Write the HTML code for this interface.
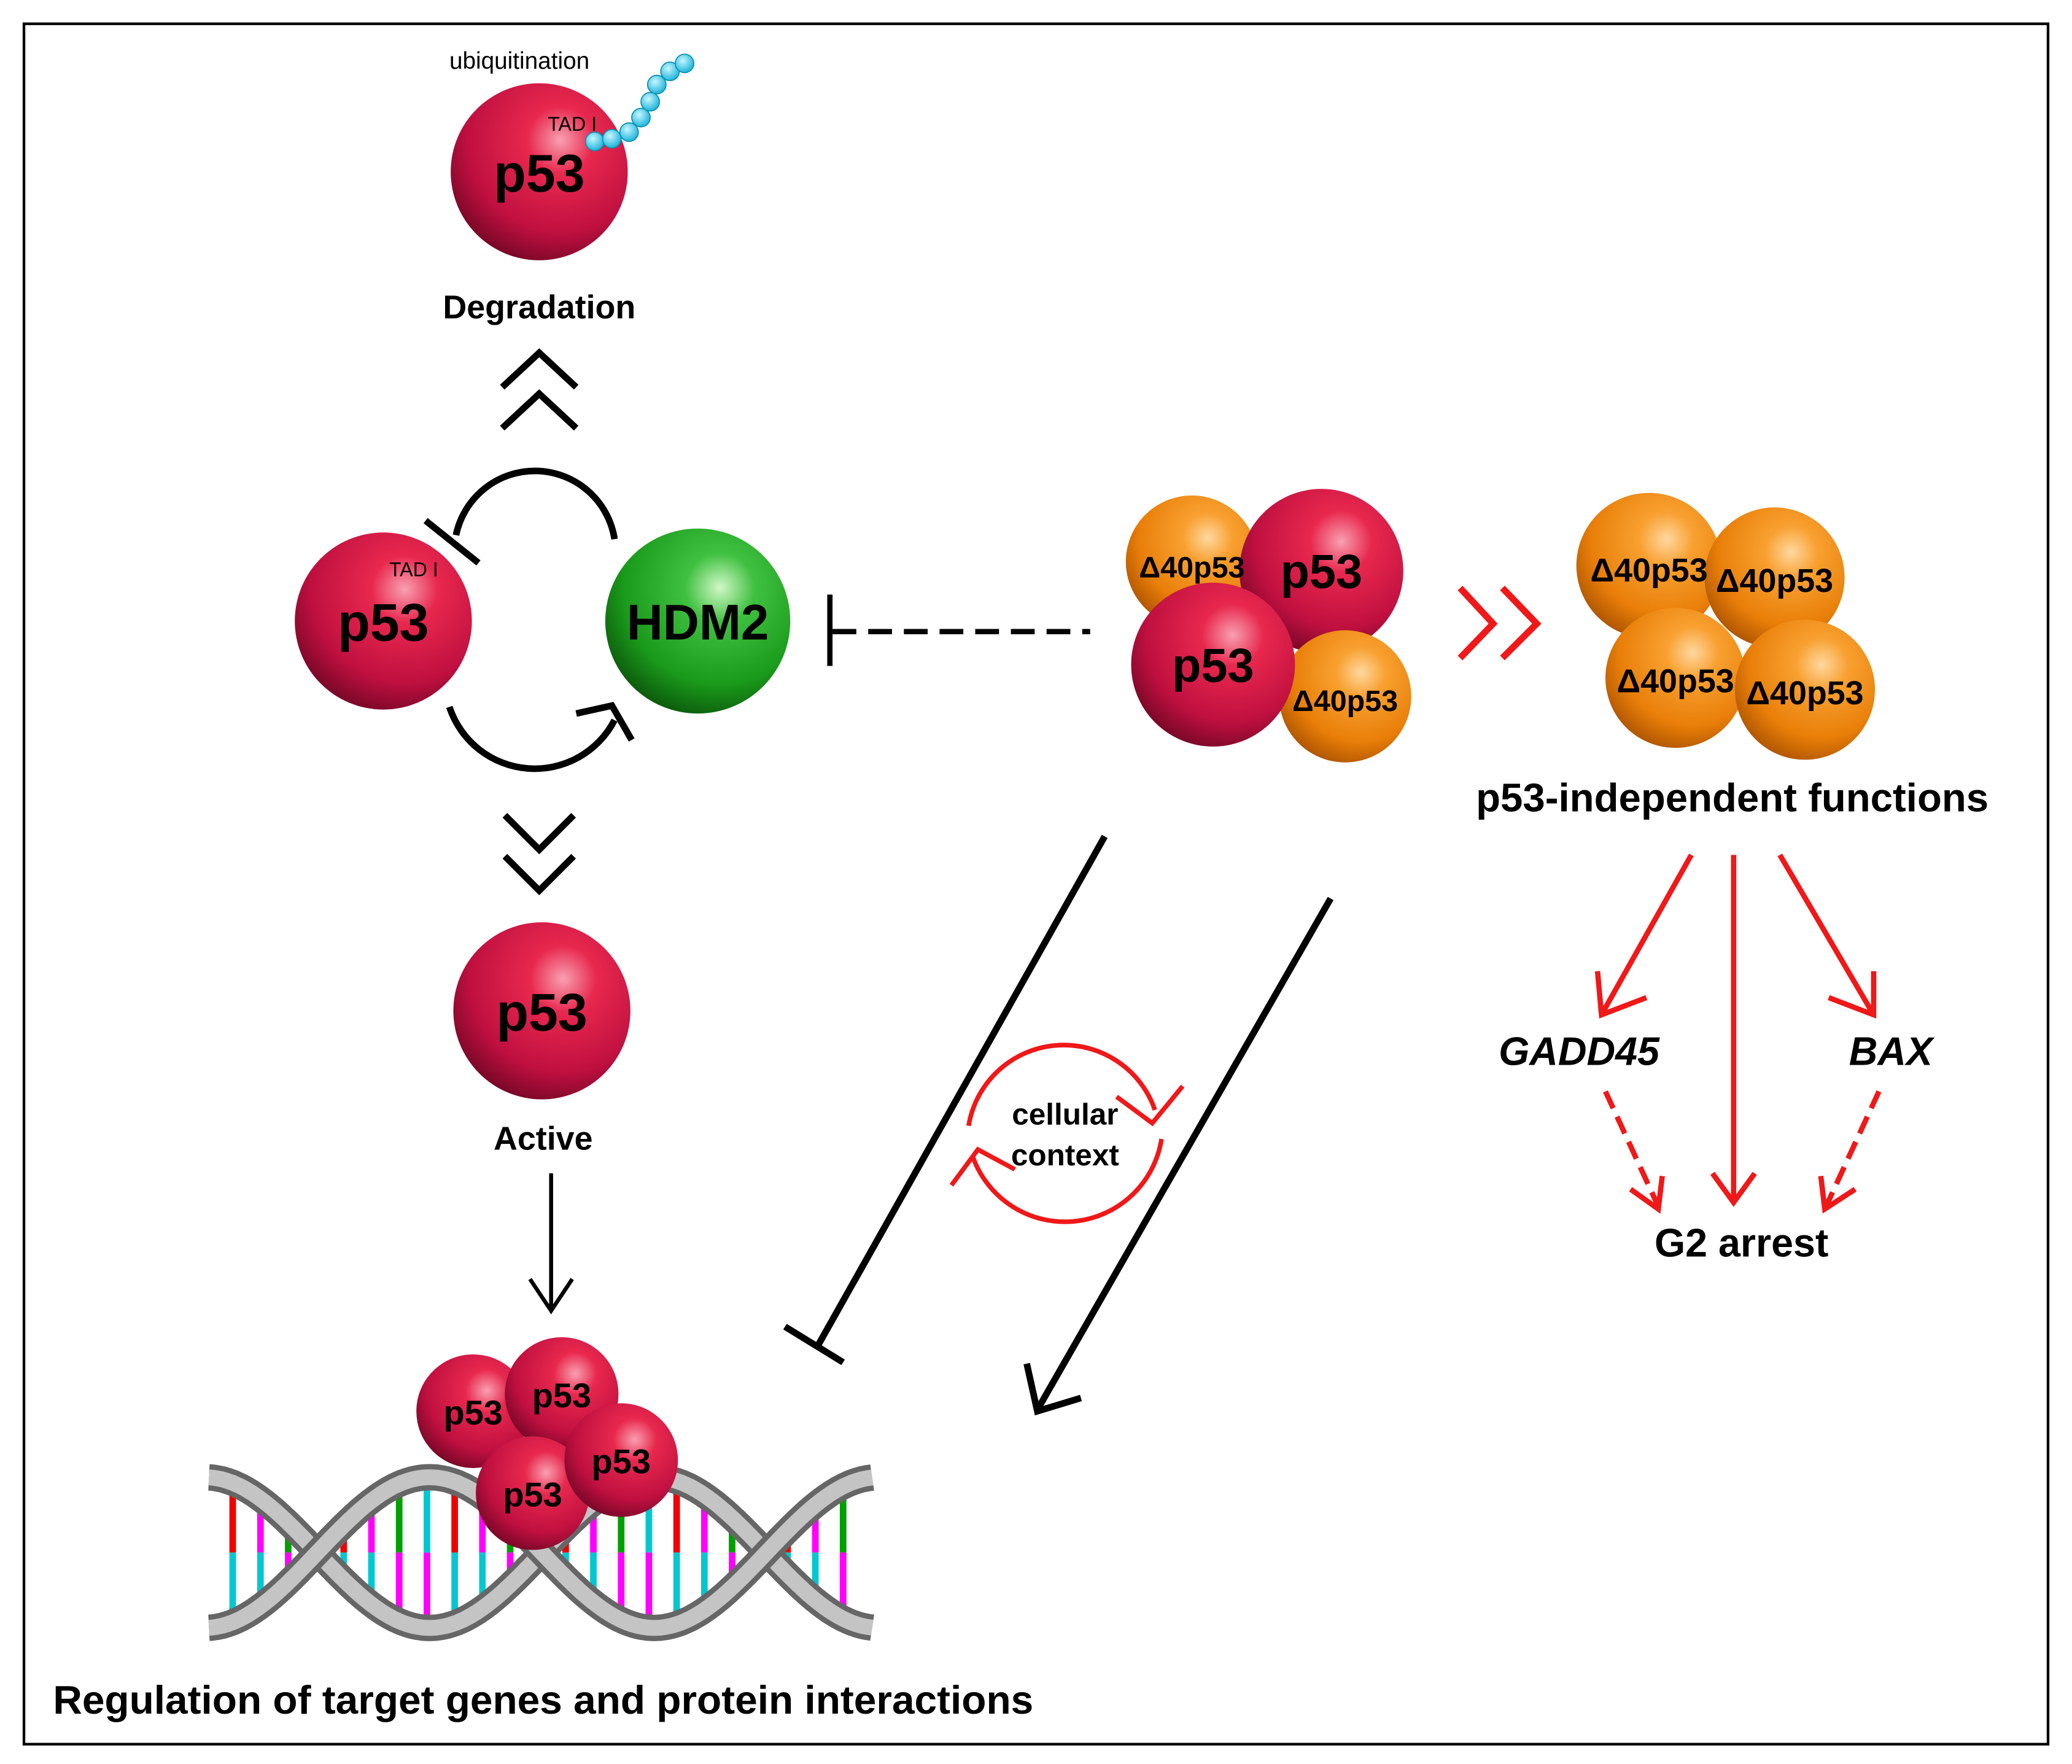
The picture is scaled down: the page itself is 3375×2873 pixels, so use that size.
<!DOCTYPE html>
<html><head><meta charset="utf-8"><style>html,body{margin:0;padding:0;background:#fff}svg{display:block}text{font-family:"Liberation Sans",sans-serif;font-weight:bold}</style></head>
<body>
<svg id="s" width="3375" height="2873" viewBox="0 0 1568 1335" xmlns="http://www.w3.org/2000/svg">
<defs>
<radialGradient id="rd" cx="0.62" cy="0.32" r="0.75"><stop offset="0" stop-color="#f8a0b0"/><stop offset="0.25" stop-color="#e8284e"/><stop offset="0.7" stop-color="#c01040"/><stop offset="1" stop-color="#6e0624"/></radialGradient>
<radialGradient id="or" cx="0.62" cy="0.32" r="0.75"><stop offset="0" stop-color="#ffd8a0"/><stop offset="0.25" stop-color="#f8a030"/><stop offset="0.7" stop-color="#e87e08"/><stop offset="1" stop-color="#a85000"/></radialGradient>
<radialGradient id="gr" cx="0.62" cy="0.32" r="0.75"><stop offset="0" stop-color="#d0f8c8"/><stop offset="0.25" stop-color="#40c040"/><stop offset="0.7" stop-color="#1a9a1a"/><stop offset="1" stop-color="#0a500a"/></radialGradient>
<radialGradient id="cy" cx="0.4" cy="0.35" r="0.7"><stop offset="0" stop-color="#c8f6ff"/><stop offset="1" stop-color="#10b0d8"/></radialGradient>
</defs>
<rect x="18" y="18" width="1532" height="1302" fill="none" stroke="#000" stroke-width="2"/>
<g id="dna"></g>
<!-- top p53 -->
<circle cx="408" cy="130" r="67" fill="url(#rd)"/>
<text x="408" y="145" font-size="40" text-anchor="middle">p53</text>
<text x="433" y="99" font-size="15" text-anchor="middle" style="font-weight:normal">TAD I</text>
<text x="393" y="52" font-size="18" text-anchor="middle" style="font-weight:normal">ubiquitination</text>
<g fill="url(#cy)" stroke="#0890b0" stroke-width="0.8">
<circle cx="450" cy="107" r="7"/><circle cx="463" cy="105" r="7"/><circle cx="476" cy="100" r="7"/><circle cx="485" cy="89" r="7"/><circle cx="492" cy="77" r="7"/><circle cx="497" cy="64" r="7"/><circle cx="507" cy="54" r="7"/><circle cx="518" cy="48" r="7"/>
</g>
<text x="408" y="241" font-size="25" text-anchor="middle">Degradation</text>
<g fill="none" stroke="#000" stroke-width="5">
<polyline points="380,293 408,267 436,293"/><polyline points="380,324 408,298 436,324"/>
<polyline points="382,617 408,643 434,617"/><polyline points="382,648 408,674 434,648"/>
<path d="M345,405 A61,61 0 0 1 465,408"/>
<line x1="322" y1="394" x2="362" y2="426"/>
<path d="M340,535 A68,68 0 0 0 465,545"/>
<polyline points="436,540 463,534 478,560"/>
</g>
<circle cx="290" cy="470" r="67" fill="url(#rd)"/>
<text x="290" y="485" font-size="40" text-anchor="middle">p53</text>
<text x="313" y="436" font-size="15" text-anchor="middle" style="font-weight:normal">TAD I</text>
<circle cx="528" cy="470" r="70" fill="url(#gr)"/>
<text x="528" y="484" font-size="38" text-anchor="middle">HDM2</text>
<circle cx="410" cy="765" r="67" fill="url(#rd)"/>
<text x="410" y="780" font-size="40" text-anchor="middle">p53</text>
<text x="411" y="870" font-size="25" text-anchor="middle">Active</text>
<g stroke="#000" stroke-width="3" fill="none"><line x1="417" y1="888" x2="417" y2="990"/><polyline points="401,968 417,992 433,968"/></g>
<!-- dna p53 cluster -->
<circle cx="358" cy="1068" r="43" fill="url(#rd)"/><text x="358" y="1078" font-size="26" text-anchor="middle">p53</text>
<circle cx="425" cy="1055" r="43" fill="url(#rd)"/><text x="425" y="1065" font-size="26" text-anchor="middle">p53</text>
<circle cx="403" cy="1130" r="43" fill="url(#rd)"/><text x="403" y="1140" font-size="26" text-anchor="middle">p53</text>
<circle cx="470" cy="1105" r="43" fill="url(#rd)"/><text x="470" y="1115" font-size="26" text-anchor="middle">p53</text>
<text x="40" y="1297" font-size="30" textLength="742" lengthAdjust="spacingAndGlyphs">Regulation of target genes and protein interactions</text>
<!-- dashed inhibitor -->
<g stroke="#000" stroke-width="4"><line x1="630" y1="478" x2="825" y2="478" stroke-dasharray="18,9"/><line x1="628" y1="450" x2="628" y2="504"/></g>
<!-- mixed cluster -->
<circle cx="902" cy="425" r="50" fill="url(#or)"/>
<circle cx="1000" cy="432" r="62" fill="url(#rd)"/>
<circle cx="1018" cy="527" r="50" fill="url(#or)"/>
<circle cx="918" cy="503" r="62" fill="url(#rd)"/>
<text x="902" y="437" font-size="22.5" text-anchor="middle">Δ40p53</text>
<text x="1000" y="445" font-size="36" text-anchor="middle">p53</text>
<text x="918" y="516" font-size="36" text-anchor="middle">p53</text>
<text x="1018" y="538" font-size="22.5" text-anchor="middle">Δ40p53</text>
<g fill="none" stroke="#f01818" stroke-width="5"><polyline points="1105,445 1130,472 1105,498"/><polyline points="1137,445 1163,472 1137,498"/></g>
<circle cx="1248" cy="428" r="55" fill="url(#or)"/>
<circle cx="1343" cy="437" r="53" fill="url(#or)"/>
<circle cx="1268" cy="513" r="53" fill="url(#or)"/>
<circle cx="1366" cy="522" r="53" fill="url(#or)"/>
<text x="1248" y="440" font-size="25" text-anchor="middle">Δ40p53</text>
<text x="1343" y="448" font-size="25" text-anchor="middle">Δ40p53</text>
<text x="1268" y="524" font-size="25" text-anchor="middle">Δ40p53</text>
<text x="1366" y="533" font-size="25" text-anchor="middle">Δ40p53</text>
<text x="1311" y="614" font-size="30" text-anchor="middle" textLength="388" lengthAdjust="spacingAndGlyphs">p53-independent functions</text>
<g stroke="#f01818" stroke-width="4" fill="none">
<line x1="1280" y1="647" x2="1212" y2="768"/><polyline points="1209,735 1212,768 1246,755"/>
<line x1="1312" y1="647" x2="1312" y2="910"/><polyline points="1296,888 1312,910 1328,888"/>
<line x1="1347" y1="647" x2="1418" y2="768"/><polyline points="1384,755 1418,768 1418,735"/>
<line x1="1215" y1="826" x2="1255" y2="913" stroke-dasharray="14,7"/><polyline points="1234,900 1255,915 1258,890"/>
<line x1="1422" y1="826" x2="1382" y2="913" stroke-dasharray="14,7"/><polyline points="1378,890 1381,915 1404,900"/>
</g>
<text x="1195" y="806" font-size="30" text-anchor="middle" font-style="italic">GADD45</text>
<text x="1431" y="806" font-size="30" text-anchor="middle" font-style="italic">BAX</text>
<text x="1318" y="951" font-size="30" text-anchor="middle">G2 arrest</text>
<!-- black long lines -->
<g stroke="#000" stroke-width="5" fill="none">
<line x1="836" y1="633" x2="618" y2="1020"/><line x1="594" y1="1004" x2="638" y2="1031"/>
<line x1="1007" y1="680" x2="785" y2="1067"/><polyline points="777,1032 785,1068 818,1058"/>
</g>
<!-- cellular context -->
<g stroke="#f01818" stroke-width="3.5" fill="none">
<path d="M733,852 A73,73 0 0 1 874,840"/><polyline points="845,830 872,850 895,822"/>
<path d="M879,862 A74,74 0 0 1 736,875"/><polyline points="720,897 740,870 768,885"/>
</g>
<text x="806" y="851" font-size="23" text-anchor="middle">cellular</text>
<text x="806" y="882" font-size="23" text-anchor="middle">context</text>
</svg>
<script>
(function(){
var g=document.getElementById('dna'),ns='http://www.w3.org/2000/svg';
var x0=158,x1=660,cy=1175,A=57,P=340,ph=240;
var cols=['#f00000','#00c8d0','#00a000','#ff00ff'];
for(var x=176;x<655;x+=21){
 var a=Math.abs(A*Math.sin(2*Math.PI*(x-ph)/P));
 if(a<15)continue;
 var i=Math.floor(x*7)%4, j=(i+1+Math.floor(x/3)%2)%4;
 var l=document.createElementNS(ns,'line');l.setAttribute('x1',x);l.setAttribute('x2',x);l.setAttribute('y1',cy-a+6);l.setAttribute('y2',cy);l.setAttribute('stroke',cols[i]);l.setAttribute('stroke-width',5);g.appendChild(l);
 l=document.createElementNS(ns,'line');l.setAttribute('x1',x);l.setAttribute('x2',x);l.setAttribute('y1',cy);l.setAttribute('y2',cy+a-6);l.setAttribute('stroke',cols[j]);l.setAttribute('stroke-width',5);g.appendChild(l);
}
[1,-1].forEach(function(s){
 var d='';for(var x=x0;x<=x1;x+=2){d+=(x==x0?'M':'L')+x+','+(cy+s*A*Math.sin(2*Math.PI*(x-ph)/P)).toFixed(1);}
 var p=document.createElementNS(ns,'path');p.setAttribute('d',d);p.setAttribute('fill','none');p.setAttribute('stroke','#666');p.setAttribute('stroke-width',20);g.appendChild(p);
 p=document.createElementNS(ns,'path');p.setAttribute('d',d);p.setAttribute('fill','none');p.setAttribute('stroke','#c4c4c4');p.setAttribute('stroke-width',12);g.appendChild(p);
});
})();
</script>
</body></html>
